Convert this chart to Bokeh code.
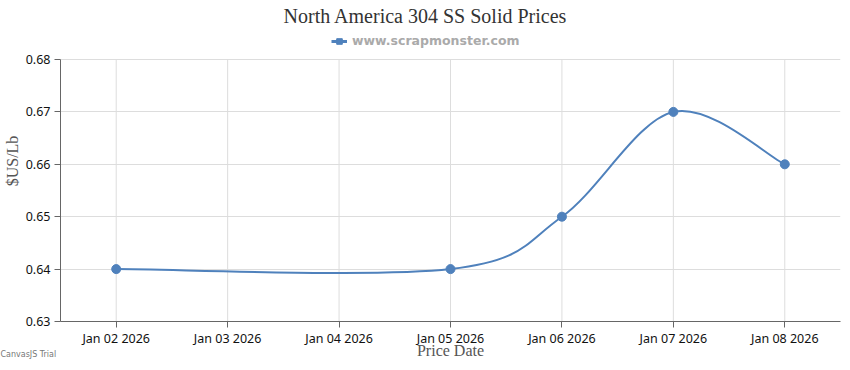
from datetime import datetime
from bokeh.plotting import figure
from bokeh.models import (Range1d, FixedTicker, DatetimeTickFormatter, Label,
                          Legend, LegendItem, ColumnDataSource)
from bokeh.embed import file_html
from bokeh.resources import INLINE

# ---- data ----
dates = ["2026-01-02", "2026-01-05", "2026-01-06", "2026-01-07", "2026-01-08"]
prices = [0.64, 0.64, 0.65, 0.67, 0.66]
tick_dates = ["2026-01-02", "2026-01-03", "2026-01-04", "2026-01-05",
              "2026-01-06", "2026-01-07", "2026-01-08"]
y_ticks = [0.63, 0.64, 0.65, 0.66, 0.67, 0.68]
title_text = "North America 304 SS Solid Prices"
legend_text = "www.scrapmonster.com"
x_title = "Price Date"
y_title = "$US/Lb"
COLOR = "#4F81BC"

def to_ms(s):
    return (datetime.strptime(s, "%Y-%m-%d") - datetime(1970, 1, 1)).total_seconds() * 1000.0

xs = [to_ms(d) for d in dates]
ticks_ms = [to_ms(d) for d in tick_dates]
half_day = 12 * 3600 * 1000.0

# Catmull-Rom (CanvasJS spline) control points from the data
n = len(xs)
x0, y0, x1, y1, cx0, cy0, cx1, cy1 = [], [], [], [], [], [], [], []
for i in range(1, n):
    a = i - 1
    ia1 = a - 1 if a > 0 else 0
    ia2 = a + 1 if a < n - 1 else a
    b = i
    ib1 = b - 1 if b > 0 else 0
    ib2 = b + 1 if b < n - 1 else b
    x0.append(xs[a]); y0.append(prices[a])
    x1.append(xs[b]); y1.append(prices[b])
    cx0.append(xs[a] + (xs[ia2] - xs[ia1]) / 6)
    cy0.append(prices[a] + (prices[ia2] - prices[ia1]) / 6)
    cx1.append(xs[b] - (xs[ib2] - xs[ib1]) / 6)
    cy1.append(prices[b] - (prices[ib2] - prices[ib1]) / 6)

# frame spans from the very top of the canvas to the x axis; the space above
# the top tick (0.68) holds the title and legend
FRAME_H = 321
PLOT_H = 262
y_span = (y_ticks[-1] - y_ticks[0]) * FRAME_H / PLOT_H

p = figure(width=842, height=370, x_axis_type="datetime",
           x_range=Range1d(xs[0] - half_day, ticks_ms[-1] + half_day),
           y_range=Range1d(y_ticks[0], y_ticks[0] + y_span),
           output_backend="svg", toolbar_location=None,
           min_border_left=60, min_border_right=2, min_border_top=0,
           min_border_bottom=0)
p.outline_line_color = None
p.background_fill_color = "white"
p.border_fill_color = "white"

# vertical grid lines limited to the value range
p.segment(x0=ticks_ms, y0=[y_ticks[0]] * len(ticks_ms), x1=ticks_ms,
          y1=[y_ticks[-1]] * len(ticks_ms), line_color="#dddddd", line_width=1)

bez_src = ColumnDataSource(dict(x0=x0, y0=y0, x1=x1, y1=y1,
                                cx0=cx0, cy0=cy0, cx1=cx1, cy1=cy1))
p.bezier(x0="x0", y0="y0", x1="x1", y1="y1", cx0="cx0", cy0="cy0",
         cx1="cx1", cy1="cy1", source=bez_src, line_color=COLOR, line_width=2)
# legend swatch renderers (single point, hidden under the first data marker)
lg_line = p.line(xs[:1], prices[:1], line_color=COLOR, line_width=3)
lg_mark = p.scatter(xs[:1], prices[:1], marker="square", size=6, color=COLOR)
p.scatter(xs, prices, size=9, color=COLOR)

legend = Legend(items=[LegendItem(label=legend_text, renderers=[lg_line, lg_mark])],
                location=(271, 273), orientation="horizontal",
                border_line_color=None, background_fill_alpha=0,
                label_text_font="DejaVu Sans", label_text_font_style="bold",
                label_text_font_size="12.5px", label_text_color="#aaaaaa",
                glyph_width=16, glyph_height=14, label_standoff=5,
                padding=0, margin=0, label_height=14)
p.add_layout(legend, "center")

# title
p.add_layout(Label(x=365, y=306, x_units="screen", y_units="screen", text=title_text,
                   text_align="center", text_baseline="middle",
                   text_font="Liberation Serif", text_font_size="20px",
                   text_color="#333333"))

# axes
p.xaxis.ticker = FixedTicker(ticks=ticks_ms)
p.xaxis.formatter = DatetimeTickFormatter(days="%b %d %Y", months="%b %d %Y",
                                          hours="%b %d %Y")
p.yaxis.ticker = FixedTicker(ticks=y_ticks)
p.yaxis.bounds = (y_ticks[0], y_ticks[-1])
p.xgrid.visible = False
p.ygrid.ticker = FixedTicker(ticks=y_ticks)
p.ygrid.grid_line_color = "#dddddd"
for ax in (p.xaxis, p.yaxis):
    ax.axis_line_color = "#666666"
    ax.major_tick_line_color = "#666666"
    ax.major_tick_out = 6
    ax.major_tick_in = 0
    ax.minor_tick_line_color = None
    ax.major_label_text_font = "Noto Sans"
    ax.major_label_text_font_size = "12.5px"
    ax.major_label_text_color = "#111111"
    ax.axis_label_text_font = "Liberation Serif"
    ax.axis_label_text_font_size = "16px"
    ax.axis_label_text_font_style = "normal"
    ax.axis_label_text_color = "#555555"
p.xaxis.major_label_standoff = 2
p.yaxis.major_label_standoff = 4
p.xaxis.axis_label = x_title
p.yaxis.axis_label = y_title
p.xaxis.axis_label_standoff = -8
p.yaxis.axis_label_standoff = 2

p.add_layout(Label(x=-60, y=16, x_units="screen", y_units="screen", text="CanvasJS Trial",
                   text_align="left", text_baseline="middle",
                   text_font="DejaVu Sans", text_font_size="8px",
                   text_color="#777777"), "below")

open("out.html", "w").write(file_html(p, INLINE))
